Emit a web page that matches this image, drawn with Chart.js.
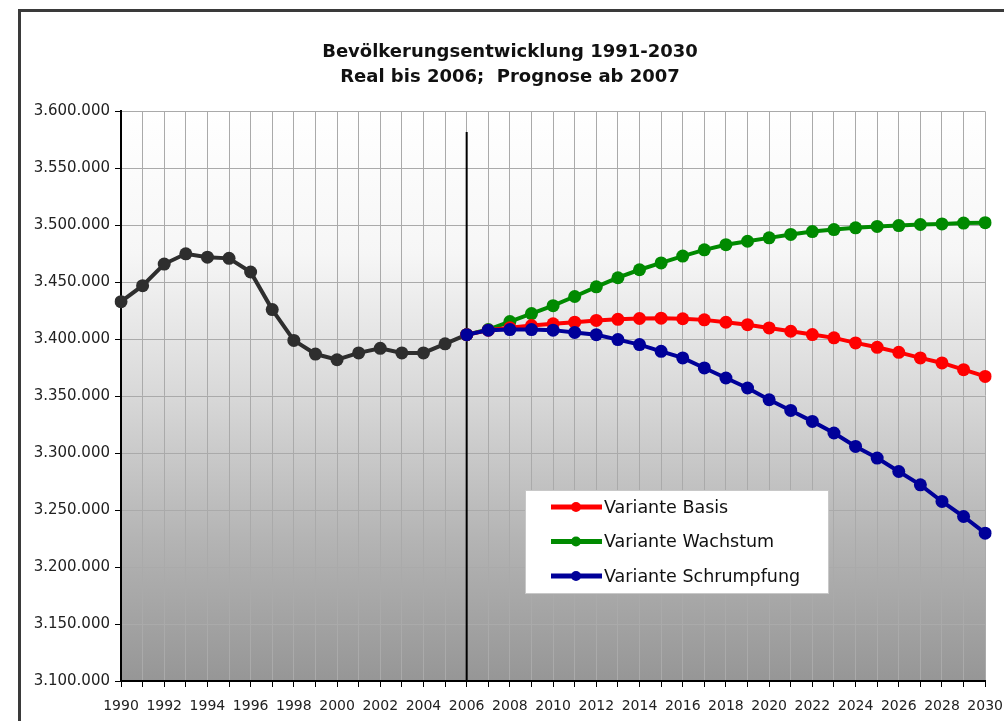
<!DOCTYPE html>
<html>
<head>
<meta charset="utf-8">
<script src="https://cdn.jsdelivr.net/npm/chart.js@4.4.1/dist/chart.umd.min.js"></script>
<style>
  body { margin: 0; background: #fff; }
</style>
</head>
<body>
<canvas id="bev_chart" width="1004" height="721"></canvas>
<script>
const years = [
  '1990', '1991', '1992', '1993', '1994', '1995', '1996', '1997', '1998', '1999',
  '2000', '2001', '2002', '2003', '2004', '2005', '2006', '2007', '2008', '2009',
  '2010', '2011', '2012', '2013', '2014', '2015', '2016', '2017', '2018', '2019',
  '2020', '2021', '2022', '2023', '2024', '2025', '2026', '2027', '2028', '2029', '2030'
];

// real population 1990-2006
const real = [
  3433000, 3447000, 3466000, 3475000, 3472000, 3471000, 3459000, 3426000, 3399000,
  3387000, 3382000, 3388000, 3392000, 3388000, 3388000, 3396000, 3404000
];

// forecasts 2006-2030
const basis = [
  3404000, 3408000, 3410000, 3412000, 3413500, 3415000, 3416500, 3417500, 3418200,
  3418500, 3418000, 3417000, 3414900, 3412800, 3409900, 3407000, 3404100, 3401200,
  3396800, 3392900, 3388500, 3383600, 3379200, 3373300, 3367400
];
const wachstum = [
  3404000, 3408500, 3415500, 3422500, 3429500, 3437500, 3446000, 3454000, 3461000,
  3467000, 3473000, 3478500, 3483000, 3486000, 3489000, 3492000, 3494500, 3496300,
  3497800, 3499000, 3499800, 3500700, 3501200, 3502000, 3502300
];
const schrumpfung = [
  3404000, 3408000, 3408500, 3408500, 3408000, 3406000, 3404000, 3399700, 3395300,
  3389400, 3383600, 3374800, 3366000, 3357200, 3346900, 3337500, 3327900, 3317700,
  3305900, 3295700, 3283900, 3272200, 3257600, 3244400, 3229800
];

const titleLines = ['Bevölkerungsentwicklung 1991-2030', 'Real bis 2006;  Prognose ab 2007'];
const yMin = 3100000, yMax = 3600000, yStep = 50000;
const splitYear = '2006';
const splitTop = 3582000;

const FONT = '"DejaVu Sans", Verdana, sans-serif';

// forecasts start in 2006, pad the earlier years
const pad = n => new Array(n).fill(null);
const lead = years.indexOf(splitYear);

function dotted(n) {
  return String(n).replace(/\B(?=(\d{3})+(?!\d))/g, '.');
}

function series(label, values, color, order) {
  return {
    label: label,
    data: values,
    borderColor: color,
    backgroundColor: color,
    pointBackgroundColor: color,
    pointBorderColor: color,
    pointBorderWidth: 0,
    pointRadius: 6.5,
    borderWidth: 4,
    order: order
  };
}

const datasets = [
  series('Variante Basis', pad(lead).concat(basis), '#ff0000', 2),
  series('Variante Wachstum', pad(lead).concat(wachstum), '#008a00', 3),
  series('Variante Schrumpfung', pad(lead).concat(schrumpfung), '#000099', 1),
  series('Real', real, '#2e2e2e', 4)
];

// grey gradient behind the plot + outer frame
const backdrop = {
  id: 'backdrop',
  beforeDraw(chart) {
    const { ctx, chartArea: a } = chart;
    ctx.save();
    ctx.fillStyle = '#3a3a3a';
    ctx.fillRect(18, 9, chart.width, 3);
    ctx.fillRect(18, 9, 3, chart.height);
    const g = ctx.createLinearGradient(0, a.top, 0, a.bottom);
    g.addColorStop(0, '#ffffff');
    g.addColorStop(0.25, '#f6f6f6');
    g.addColorStop(0.5, '#d8d8d8');
    g.addColorStop(0.75, '#b4b4b4');
    g.addColorStop(1, '#969696');
    ctx.fillStyle = g;
    ctx.fillRect(a.left, a.top, a.width, a.height);
    ctx.restore();
  }
};

// black line between real data and forecast
const splitLine = {
  id: 'splitLine',
  beforeDatasetsDraw(chart) {
    const { ctx, scales: { x, y }, chartArea: a } = chart;
    const px = x.getPixelForValue(lead);
    ctx.save();
    ctx.strokeStyle = '#000';
    ctx.lineWidth = 2;
    ctx.beginPath();
    ctx.moveTo(px, y.getPixelForValue(splitTop));
    ctx.lineTo(px, a.bottom);
    ctx.stroke();
    ctx.restore();
  }
};

// legend box inside the plot, only the three variants
const boxLegend = {
  id: 'boxLegend',
  afterDraw(chart) {
    const ctx = chart.ctx;
    const bx = 525, by = 490, bw = 303, bh = 103;
    ctx.save();
    ctx.fillStyle = '#fff';
    ctx.fillRect(bx, by, bw, bh);
    ctx.strokeStyle = '#c8c8c8';
    ctx.lineWidth = 1;
    ctx.strokeRect(bx + 0.5, by + 0.5, bw, bh);
    ctx.font = '17.5px ' + FONT;
    ctx.textBaseline = 'middle';
    chart.data.datasets.slice(0, 3).forEach((ds, i) => {
      const ry = by + 17 + i * 34.5;
      ctx.strokeStyle = ds.borderColor;
      ctx.lineWidth = 5;
      ctx.beginPath();
      ctx.moveTo(551, ry);
      ctx.lineTo(602, ry);
      ctx.stroke();
      ctx.fillStyle = ds.borderColor;
      ctx.beginPath();
      ctx.arc(576, ry, 5, 0, Math.PI * 2);
      ctx.fill();
      ctx.fillStyle = '#111';
      ctx.fillText(ds.label, 604, ry + 1);
    });
    ctx.restore();
  }
};

const ctx = document.getElementById('bev_chart').getContext('2d');

const config = {
  type: 'line',
  data: { labels: years, datasets: datasets },
  options: {
    responsive: false,
    animation: false,
    layout: { padding: { left: 28, right: 12, top: 0, bottom: 0 } },
    plugins: {
      legend: { display: false },
      tooltip: { enabled: false },
      title: {
        display: true,
        text: titleLines,
        color: '#111',
        font: { family: FONT, size: 18, weight: 'bold', lineHeight: 1.4 },
        padding: { top: 40, bottom: 21 }
      }
    },
    scales: {
      x: {
        grid: { color: '#aaaaaa', tickColor: '#000', tickLength: 6 },
        border: { color: '#000', width: 2 },
        ticks: {
          autoSkip: false,
          maxRotation: 0,
          padding: 1,
          color: '#222',
          font: { family: FONT, size: 14, lineHeight: 2.6 },
          callback: (v, i) => (i % 2 === 0 ? years[i] : '')
        },
        afterFit: s => { s.height = 40; }
      },
      y: {
        min: yMin,
        max: yMax,
        grid: { color: '#aaaaaa', tickColor: '#000', tickLength: 6 },
        border: { color: '#000', width: 2 },
        ticks: {
          stepSize: yStep,
          padding: 5,
          color: '#222',
          font: { family: FONT, size: 15 },
          callback: v => dotted(v)
        },
        afterFit: s => { s.width = 93; }
      }
    }
  },
  plugins: [backdrop, splitLine, boxLegend]
};

const bev_chart = new Chart(ctx, config);
</script>
</body>
</html>
